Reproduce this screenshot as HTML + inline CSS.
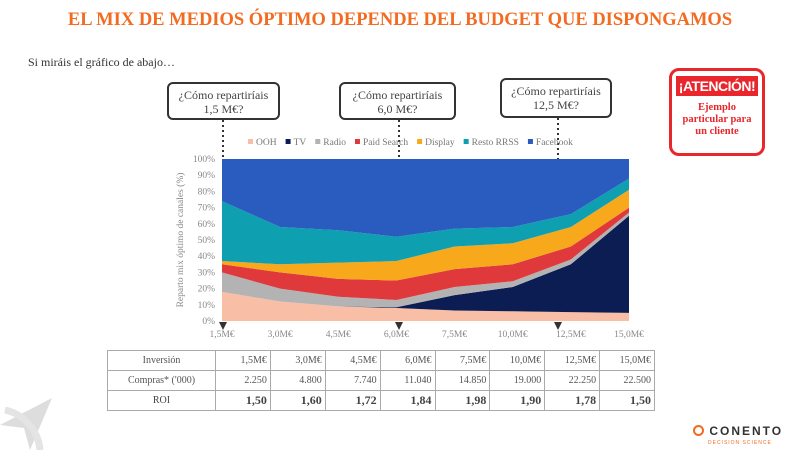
<!DOCTYPE html>
<html><head><meta charset="utf-8"><style>
body{margin:0;width:800px;height:450px;background:#fff;position:relative;overflow:hidden;font-family:"Liberation Serif",serif;}
.abs{position:absolute;}
#title{left:0;width:800px;top:10px;text-align:center;color:#f26b21;font-weight:bold;font-size:18.5px;}
#sub{left:28px;top:55px;font-size:12px;color:#333;}
.call{position:absolute;border:2.5px solid #333;border-radius:6px;background:#fff;text-align:center;font-size:12px;color:#444;line-height:14px;box-sizing:border-box;padding-top:4px;}
#att{position:absolute;left:669px;top:68px;width:96px;height:88px;border:3px solid #e8262b;border-radius:10px;box-sizing:border-box;text-align:center;}
#att .h{background:#e8262b;color:#fff;font-family:"Liberation Sans",sans-serif;font-weight:bold;font-size:14px;margin:5px 4px 6px;padding:2px 0;white-space:nowrap;letter-spacing:-0.5px;}
#att .t{color:#e8262b;font-weight:bold;font-size:10.5px;line-height:12px;}
table{position:absolute;left:107px;top:350px;width:548px;border-collapse:collapse;font-size:10px;color:#555;table-layout:fixed;}
td{border:1px solid #aaa;height:19px;padding:0 3px;text-align:right;}
td.f{text-align:center;width:101px;}
tr.roi td{font-weight:bold;font-size:12px;color:#444;}
</style></head><body>
<div id="title" class="abs">EL MIX DE MEDIOS ÓPTIMO DEPENDE DEL BUDGET QUE DISPONGAMOS</div>
<div id="sub" class="abs">Si miráis el gráfico de abajo…</div>
<svg class="abs" style="left:0;top:0" width="800" height="450" id="chart"></svg>
<div class="call" style="left:167px;top:82px;width:113px;height:38px">¿Cómo repartiríais<br>1,5 M€?</div>
<div class="call" style="left:339px;top:82px;width:117px;height:38px">¿Cómo repartiríais<br>6,0 M€?</div>
<div class="call" style="left:500px;top:78px;width:112px;height:40px">¿Cómo repartiríais<br>12,5 M€?</div>
<div id="att"><div class="h">¡ATENCIÓN!</div><div class="t">Ejemplo<br>particular para<br>un cliente</div></div>
<table>
<tr><td class="f">Inversión</td><td>1,5M€</td><td>3,0M€</td><td>4,5M€</td><td>6,0M€</td><td>7,5M€</td><td>10,0M€</td><td>12,5M€</td><td>15,0M€</td></tr>
<tr><td class="f">Compras* ('000)</td><td>2.250</td><td>4.800</td><td>7.740</td><td>11.040</td><td>14.850</td><td>19.000</td><td>22.250</td><td>22.500</td></tr>
<tr class="roi"><td class="f" style="font-weight:normal;font-size:10px">ROI</td><td>1,50</td><td>1,60</td><td>1,72</td><td>1,84</td><td>1,98</td><td>1,90</td><td>1,78</td><td>1,50</td></tr>
</table>
<svg class="abs" style="left:0;top:390px" width="70" height="60"><path d="M0,35 L52,8 L30,60 L24,38 Z" fill="#ddd"/><path d="M40,60 A45,45 0 0 0 5,20" stroke="#e4e4e4" stroke-width="7" fill="none"/></svg>
<div class="abs" style="left:693px;top:422px;font-family:'Liberation Sans',sans-serif;"><span style="display:inline-block;width:11px;height:11px;border:2px solid #f26b21;border-radius:50%;vertical-align:middle;box-sizing:border-box"></span><span style="font-weight:bold;font-size:12px;letter-spacing:2px;color:#333;vertical-align:middle"> CONENTO</span><div style="font-size:5px;color:#f26b21;letter-spacing:1px;margin-left:15px">DECISION SCIENCE</div></div>
<script>
const categories=["1,5M€","3,0M€","4,5M€","6,0M€","7,5M€","10,0M€","12,5M€","15,0M€"];
const seriesNames=["OOH","TV","Radio","Paid Search","Display","Resto RRSS","Facebook"];
const ooh=[18,12,9,8,6.5,6,5.5,5];
const tv=[0,0,0,0.5,9.5,15,29.5,60];
const radio=[12,8,6,4.5,5,3.5,3,2];
const paid=[5,10,11,12,11,10.5,8,3];
const display=[2,5,10,12,14,13,12,11];
const resto=[37,23,20,15,11,10,8,7];
const facebook=[26,42,44,48,43,42,34,12];
const yTicks=[0,10,20,30,40,50,60,70,80,90,100];
const colors=["#f8bfa6","#0b1d52","#b3b3b3","#e0393c","#f7a81b","#0e9fb0","#2a5cbf"];
const svg=document.getElementById('chart');const NS="http://www.w3.org/2000/svg";
const X0=222,X1=629,Y0=321,Y1=159;
const xs=i=>X0+(X1-X0)*i/(categories.length-1);
const ys=v=>Y0-(Y0-Y1)*v/100;
function mk(t,a){const e=document.createElementNS(NS,t);for(const k in a)e.setAttribute(k,a[k]);svg.appendChild(e);return e;}
[[223,120],[399,120],[558,118]].forEach(([x,y0])=>{
 const l=mk('line',{x1:x,y1:y0,x2:x,y2:Y1,stroke:'#333','stroke-width':2,'stroke-dasharray':'2,3'});
 
 const a=mk('path',{d:`M${x-4},322 L${x+4},322 L${x},330Z`,fill:'#333'});
 });
const all=[ooh,tv,radio,paid,display,resto,facebook];
let base=categories.map(()=>0);
all.forEach((s,si)=>{const top=base.map((b,i)=>b+s[i]);
 let d="M"+top.map((v,i)=>xs(i)+","+ys(Math.min(v,100))).join(" L");
 for(let i=categories.length-1;i>=0;i--)d+=" L"+xs(i)+","+ys(base[i]);
 const p=mk('path',{d:d+"Z",fill:colors[si]});
 
 
 base=top;});
yTicks.forEach(v=>{const t=mk('text',{x:X0-7,y:ys(v)+3,'text-anchor':'end','font-size':'9.5','fill':'#888','font-family':'Liberation Serif'});t.textContent=v+'%';
 });
categories.forEach((c,i)=>{const t=mk('text',{x:xs(i),y:337,'text-anchor':'middle','font-size':'9.5','fill':'#888','font-family':'Liberation Serif'});t.textContent=c;
 });
const yt=mk('text',{x:0,y:0,transform:'translate(183,240) rotate(-90)','text-anchor':'middle','font-size':'9.5','fill':'#888','font-family':'Liberation Serif'});yt.textContent='Reparto mix óptimo de canales (%)';

let lx=248;
seriesNames.forEach((n,i)=>{mk('rect',{x:lx,y:139,width:5,height:5,fill:colors[i]});
 const t=mk('text',{x:lx+8,y:145,'font-size':'9.5','fill':'#777','font-family':'Liberation Serif'});t.textContent=n;
 
 lx+=8+t.getComputedTextLength()+9;});
</script>
</body></html>
